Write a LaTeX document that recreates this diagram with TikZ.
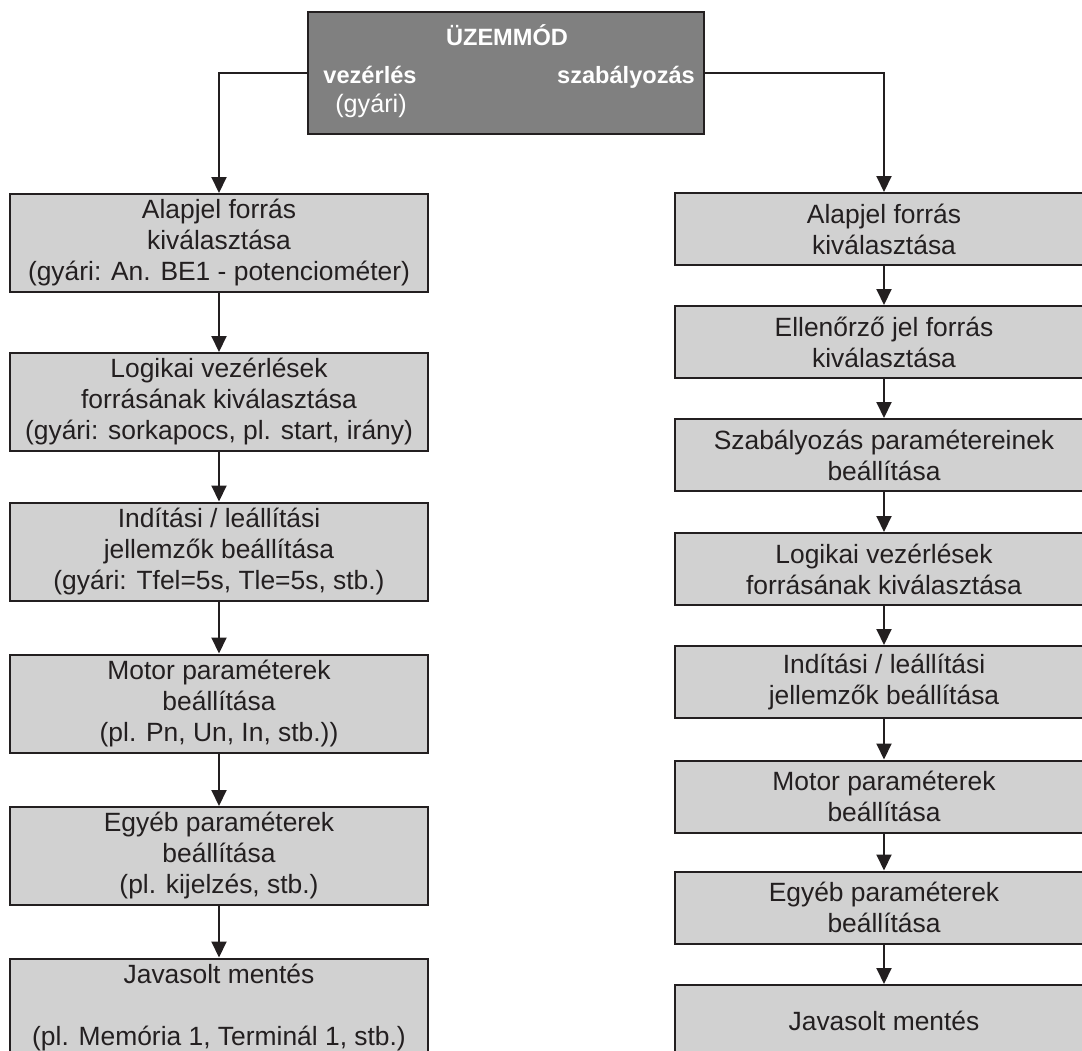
\documentclass[tikz,border=0pt]{standalone}
\usepackage{fontspec}
\setmainfont{Liberation Sans}
\usetikzlibrary{arrows.meta}
\definecolor{ink}{HTML}{231F20}
\definecolor{boxgray}{HTML}{D1D1D1}
\definecolor{modegray}{HTML}{808080}
\tikzset{
	lbox/.style={draw=ink, line width=1pt, fill=boxgray, text=ink, align=center,
		minimum width=209pt, minimum height=49pt, inner sep=0pt,
		font=\fontsize{13.2}{15.5}\selectfont},
	rbox/.style={lbox, minimum height=36pt},
	modetext/.style={anchor=base, text=white, font=\fontsize{11.8}{13}\selectfont\bfseries},
}
\begin{document}
\begin{tikzpicture}[x=0.5pt, y=-0.5pt, >={Triangle[length=8pt,width=7.5pt]}, line width=1pt, ink]
	\useasboundingbox (0,0) rectangle (1082,1050);
	\node (0) [draw=ink, fill=modegray, minimum width=198pt, minimum height=61pt] at (506,73) {};
	\node (t) [modetext] at (507,45) {ÜZEMMÓD};
	\node (v) [modetext] at (370,83) {vezérlés};
	\node (g) [anchor=base, text=white, font=\fontsize{12.6}{14}\selectfont] at (371,112) {(gyári)};
	\node (s) [modetext] at (626,83) {szabályozás};
	% vezerles ag
	\node (l1) [lbox] at (219,243) {Alapjel forrás\\kiválasztása\\(gyári: An. BE1 - potenciométer)};
	\node (l2) [lbox] at (219,402) {Logikai vezérlések\\forrásának kiválasztása\\(gyári: sorkapocs, pl. start, irány)};
	\node (l3) [lbox] at (219,551.5) {Indítási / leállítási\\jellemzők beállítása\\(gyári: Tfel=5s, Tle=5s, stb.)};
	\node (l4) [lbox] at (219,703.5) {Motor paraméterek\\beállítása\\(pl. Pn, Un, In, stb.))};
	\node (l5) [lbox] at (219,856) {Egyéb paraméterek\\beállítása\\(pl. kijelzés, stb.)};
	\node (l6) [lbox] at (219,1007.5) {Javasolt mentés\\ \\(pl. Memória 1, Terminál 1, stb.)};
	% szabalyozas ag
	\node (r1) [rbox] at (884,229) {Alapjel forrás\\kiválasztása};
	\node (r2) [rbox] at (884,342) {Ellenőrző jel forrás\\kiválasztása};
	\node (r3) [rbox] at (884,455) {Szabályozás paramétereinek\\beállítása};
	\node (r4) [rbox] at (884,569) {Logikai vezérlések\\forrásának kiválasztása};
	\node (r5) [rbox] at (884,682) {Indítási / leállítási\\jellemzők beállítása};
	\node (r6) [rbox] at (884,796.5) {Motor paraméterek\\beállítása};
	\node (r7) [rbox] at (884,907.5) {Egyéb paraméterek\\beállítása};
	\node (r8) [rbox] at (884,1021) {Javasolt mentés};
	\draw[->] (0.west) -| (l1);
	\draw[->] (0.east) -| (r1);
	\foreach \a/\b in {l1/l2, l2/l3, l3/l4, l4/l5, l5/l6, r1/r2, r2/r3, r3/r4, r4/r5, r5/r6, r6/r7, r7/r8}
		\draw[->] (\a) -- (\b);
\end{tikzpicture}
\end{document}
